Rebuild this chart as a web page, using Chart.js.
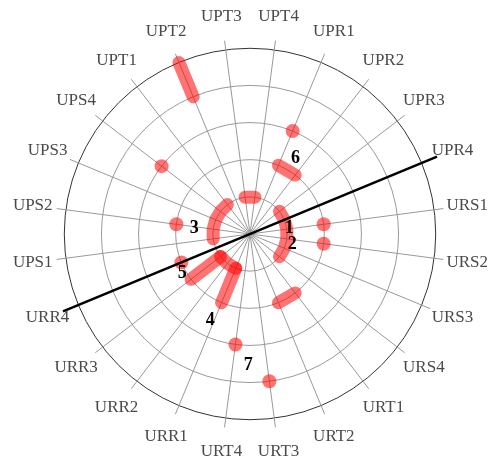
<!DOCTYPE html>
<html>
<head>
<meta charset="utf-8">
<script src="https://cdn.jsdelivr.net/npm/chart.js@4.4.0/dist/chart.umd.min.js"></script>
<style>
  html, body { margin: 0; padding: 0; background: #fff; }
  #wrap { width: 491px; height: 459px; }
</style>
</head>
<body>
<div id="wrap"><canvas id="polarChart"></canvas></div>
<script>
// spokes, clockwise starting at UPR1
const categories = ['UPR1', 'UPR2', 'UPR3', 'UPR4', 'URS1', 'URS2', 'URS3', 'URS4',
  'URT1', 'URT2', 'URT3', 'URT4', 'URR1', 'URR2', 'URR3', 'URR4',
  'UPS1', 'UPS2', 'UPS3', 'UPS4', 'UPT1', 'UPT2', 'UPT3', 'UPT4'];

// arcs running along a ring from one spoke to another
const arcFrom = ['UPR3', 'UPS1', 'UPT3', 'UPR1', 'URT1', 'URR1'];
const arcTo = ['URS4', 'UPT1', 'UPT4', 'UPR2', 'URT2', 'URR3'];
const arcLevel = [1, 1, 1, 2, 2, 1];

// bars running outward along one spoke
const barSpoke = ['UPT2', 'URR1', 'URR3'];
const barFrom = [4, 1, 1];
const barTo = [5, 2, 2];

// single points
const dotSpoke = ['UPR1', 'UPS4', 'UPS2', 'URR4', 'URS1', 'URS2', 'URT4', 'URT3'];
const dotLevel = [3, 3, 2, 2, 2, 2, 3, 4];

// black axis through the centre
const axisSpokes = ['UPR4', 'URR4'];
const axisLevel = 5.45;

// numbered notes (spoke index may be fractional)
const noteText = ['1', '2', '3', '4', '5', '6', '7'];
const noteSpoke = [3.92, 5.43, 16.88, 12.15, 14.48, 0.57, 10.55];
const noteLevel = [1.07, 1.17, 1.51, 2.56, 2.11, 2.38, 3.54];

const ringMax = 5.25;
const labelLevel = 5.9;

const red = 'rgba(255, 0, 0, 0.55)';
const n = categories.length;

const arcSets = arcFrom.map((from, k) => {
  const data = categories.map(() => null);
  const end = categories.indexOf(arcTo[k]);
  for (let i = categories.indexOf(from); ; i = (i + 1) % n) {
    data[i] = arcLevel[k];
    if (i === end) break;
  }
  return {
    data: data,
    fill: false,
    spanGaps: false,
    borderColor: red,
    borderWidth: 13,
    borderCapStyle: 'round',
    borderJoinStyle: 'round',
    pointRadius: 0,
    pointHoverRadius: 0
  };
});

const dotData = categories.map(c => {
  const k = dotSpoke.indexOf(c);
  return k < 0 ? null : dotLevel[k];
});

const overlay = {
  id: 'overlay',
  afterDatasetsDraw(chart) {
    const r = chart.scales.r;
    const ctx = chart.ctx;
    ctx.save();
    ctx.lineCap = 'round';

    // radial bars
    ctx.strokeStyle = red;
    ctx.lineWidth = 13;
    barSpoke.forEach((s, k) => {
      const i = categories.indexOf(s);
      const a = r.getPointPositionForValue(i, barFrom[k]);
      const b = r.getPointPositionForValue(i, barTo[k]);
      ctx.beginPath();
      ctx.moveTo(a.x, a.y);
      ctx.lineTo(b.x, b.y);
      ctx.stroke();
    });

    // axis line
    const p = r.getPointPositionForValue(categories.indexOf(axisSpokes[0]), axisLevel);
    const q = r.getPointPositionForValue(categories.indexOf(axisSpokes[1]), axisLevel);
    ctx.strokeStyle = '#000';
    ctx.lineWidth = 2.5;
    ctx.lineCap = 'butt';
    ctx.beginPath();
    ctx.moveTo(p.x, p.y);
    ctx.lineTo(q.x, q.y);
    ctx.stroke();

    ctx.textAlign = 'center';
    ctx.textBaseline = 'middle';

    // spoke labels
    ctx.font = '17px "Liberation Serif"';
    ctx.fillStyle = '#4a4a4a';
    categories.forEach((c, i) => {
      const pos = r.getPointPositionForValue(i, labelLevel);
      ctx.fillText(c, pos.x, pos.y);
    });

    // numbered notes
    ctx.font = 'bold 18px "Liberation Serif"';
    ctx.fillStyle = '#000';
    noteText.forEach((t, k) => {
      const pos = r.getPointPositionForValue(noteSpoke[k], noteLevel[k]);
      ctx.fillText(t, pos.x, pos.y);
    });
    ctx.restore();
  }
};

new Chart(document.getElementById('polarChart'), {
  type: 'radar',
  data: {
    labels: categories,
    datasets: arcSets.concat([{
      data: dotData,
      fill: false,
      showLine: false,
      pointRadius: 7,
      pointHoverRadius: 7,
      pointBackgroundColor: red,
      pointBorderWidth: 0,
      pointBorderColor: 'rgba(0,0,0,0)'
    }])
  },
  options: {
    responsive: true,
    maintainAspectRatio: false,
    animation: false,
    events: [],
    layout: { padding: { left: 55, right: 46, top: 39, bottom: 30 } },
    plugins: {
      legend: { display: false },
      tooltip: { enabled: false }
    },
    scales: {
      r: {
        min: 0,
        max: ringMax,
        startAngle: 22.5,
        ticks: { display: false, stepSize: 1, includeBounds: false },
        grid: {
          circular: true,
          lineWidth: 1,
          color: c => (c.tick && c.tick.value === 5 ? '#333' : '#999')
        },
        angleLines: { color: '#999', lineWidth: 1 },
        pointLabels: { display: false }
      }
    }
  },
  plugins: [overlay]
});
</script>
</body>
</html>
